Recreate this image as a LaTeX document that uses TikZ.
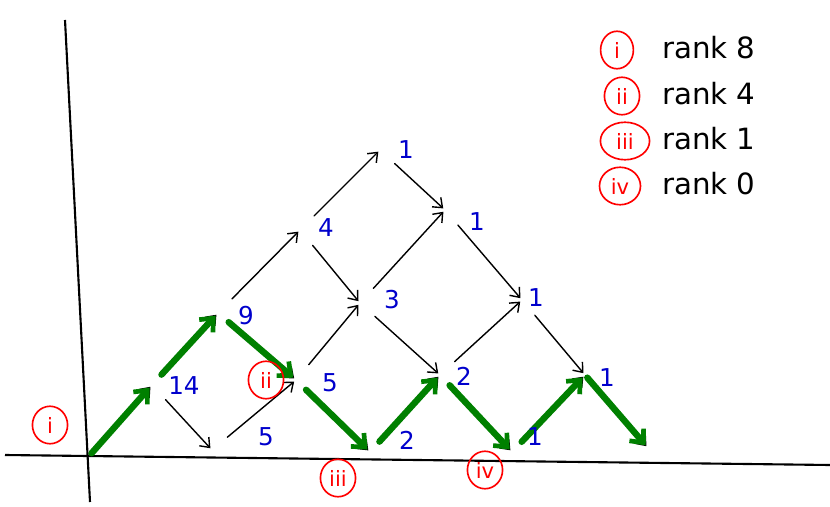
\documentclass[tikz,border=0pt]{standalone}
\usepackage{fontspec}
\setmainfont{DejaVu Sans}
\usetikzlibrary{arrows.meta,shapes.geometric}

\begin{document}
\begin{tikzpicture}[
  x=0.03cm, y=-0.03cm,
  >={Straight Barb[length=7pt,width=11pt]},
  pt/.style={coordinate},
  edge/.style={->, line width=1.2pt, line cap=round, shorten <=17pt, shorten >=2pt},
  best/.style={-{Straight Barb[length=9pt,width=16pt,line width=4pt]}, line width=5.5pt, line cap=round, draw=green!50!black, shorten <=12pt, shorten >=3pt},
  num/.style={text=blue!80!black, font=\fontsize{21}{23}\selectfont},
  tag/.style={draw=red, line width=1.4pt, ellipse, text=red, inner sep=0pt, minimum width=30pt, minimum height=32pt, font=\fontsize{18}{19}\selectfont},
  rank/.style={anchor=west, font=\fontsize{25}{27}\selectfont},
  axis/.style={line width=1.8pt}
]
\useasboundingbox (0,0) rectangle (830,507);

% Axes
\coordinate (ytop) at (65,20);
\coordinate (ybot) at (90,502);
\coordinate (xleft) at (5,455);
\coordinate (xright) at (830,465);
\draw[axis] (ytop) -- (ybot);
\draw[axis] (xleft) -- (xright);

% Lattice points
\coordinate (p00) at (90,455);
\coordinate (p11) at (152,385);
\coordinate (p20) at (212,450);
\coordinate (p22) at (218,313);
\coordinate (p31) at (296,380);
\coordinate (p33) at (300,230);
\coordinate (p40) at (370,452);
\coordinate (p42) at (360,303);
\coordinate (p44) at (380,150);
\coordinate (p51) at (440,375);
\coordinate (p53) at (445,210);
\coordinate (p60) at (512,452);
\coordinate (p62) at (522,300);
\coordinate (p71) at (585,375);
\coordinate (p80) at (648,448);

% All steps
\draw[edge, shorten <=3pt] (p00) -- (p11);
\draw[edge] (p11) -- (p20);
\draw[edge] (p11) -- (p22);
\draw[edge] (p20) -- (p31);
\draw[edge] (p22) -- (p33);
\draw[edge] (p22) -- (p31);
\draw[edge] (p33) -- (p44);
\draw[edge] (p33) -- (p42);
\draw[edge] (p31) -- (p42);
\draw[edge] (p31) -- (p40);
\draw[edge] (p44) -- (p53);
\draw[edge] (p42) -- (p53);
\draw[edge] (p42) -- (p51);
\draw[edge] (p40) -- (p51);
\draw[edge] (p53) -- (p62);
\draw[edge] (p51) -- (p62);
\draw[edge] (p51) -- (p60);
\draw[edge] (p62) -- (p71);
\draw[edge] (p60) -- (p71);
\draw[edge] (p71) -- (p80);

% Chosen path
\draw[best, shorten <=2pt] (p00) -- (p11);
\draw[best] (p11) -- (p22);
\draw[best] (p22) -- (p31);
\draw[best] (p31) -- (p40);
\draw[best] (p40) -- (p51);
\draw[best] (p51) -- (p60);
\draw[best] (p60) -- (p71);
\draw[best, shorten <=3pt] (p71) -- (p80);

% Path counts
\node[num] (n11) at (184,386) {14};
\node[num] (n22) at (246,316) {9};
\node[num] (n20) at (266,437) {5};
\node[num] (n33) at (326,228) {4};
\node[num] (n31) at (330,383) {5};
\node[num] (n44) at (406,150) {1};
\node[num] (n42) at (392,300) {3};
\node[num] (n40) at (407,440) {2};
\node[num] (n53) at (477,222) {1};
\node[num] (n51) at (464,376) {2};
\node[num] (n62) at (536,298) {1};
\node[num] (n60) at (535,437) {1};
\node[num] (n71) at (607,378) {1};

% Marks on the picture
\node[tag] (c1) at (50,425) {i};
\node[tag] (c2) at (266,380) {ii};
\node[tag] (c3) at (338,478) {iii};
\node[tag] (c4) at (485,470) {iv};

% Legend
\node[tag, minimum width=28pt] (l1) at (617,50) {i};
\node[tag] (l2) at (622,96) {ii};
\node[tag, minimum width=42pt] (l3) at (625,141) {iii};
\node[tag, minimum width=35pt] (l4) at (620,186) {iv};
\node[rank] (r1) at (658,48) {rank 8};
\node[rank] (r2) at (658,94) {rank 4};
\node[rank] (r3) at (658,139) {rank 1};
\node[rank] (r4) at (658,184) {rank 0};

\end{tikzpicture}
\end{document}
